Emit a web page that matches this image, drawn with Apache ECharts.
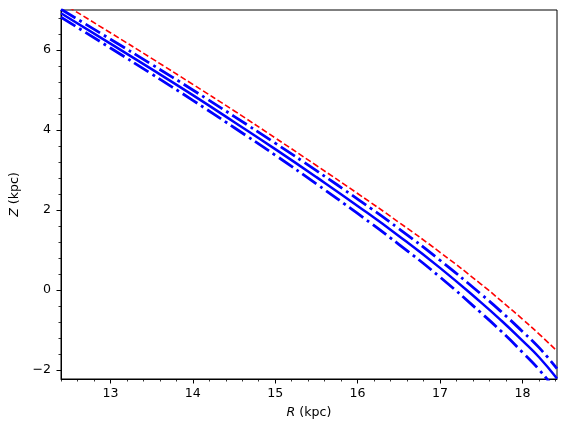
<!DOCTYPE html>
<html><head><meta charset="utf-8">
<script src="https://cdn.jsdelivr.net/npm/echarts@6/dist/echarts.min.js"></script>
<style>html,body{margin:0;padding:0;background:#fff}#c{width:566px;height:433px}</style>
</head><body><div id="c"></div>
<script>
// Galactocentric radius R (kpc)
const R = [12.4, 13.0, 13.5, 14.0, 14.5, 15.0, 15.5, 16.0, 16.5, 17.0, 17.5, 17.75, 18.0, 18.2, 18.42];
// Z (kpc) of each curve
const zRed   = [7.19, 6.43, 5.79, 5.14, 4.48, 3.80, 3.11, 2.41, 1.69, 0.94, 0.14, -0.29, -0.73, -1.10, -1.53];
const zUpper = [7.02, 6.27, 5.64, 5.00, 4.34, 3.67, 2.98, 2.27, 1.53, 0.74, -0.11, -0.56, -1.04, -1.44, -1.97];
const zSolid = [6.92, 6.16, 5.52, 4.87, 4.20, 3.52, 2.82, 2.10, 1.35, 0.55, -0.32, -0.78, -1.27, -1.68, -2.22];
const zLower = [6.82, 6.05, 5.40, 4.74, 4.06, 3.37, 2.65, 1.91, 1.14, 0.32, -0.58, -1.05, -1.56, -1.99, -2.55];

const xMajorTicks = [13, 14, 15, 16, 17, 18];
const xMinorTicks = [12.4, 12.6, 12.8, 13.2, 13.4, 13.6, 13.8, 14.2, 14.4, 14.6, 14.8, 15.2, 15.4, 15.6, 15.8,
                     16.2, 16.4, 16.6, 16.8, 17.2, 17.4, 17.6, 17.8, 18.2, 18.4];
const yMajorTicks = [-2, 0, 2, 4, 6];
const yMinorTicks = [-1.6, -1.2, -0.8, -0.4, 0.4, 0.8, 1.2, 1.6, 2.4, 2.8, 3.2, 3.6, 4.4, 4.8, 5.2, 5.6, 6.4, 6.8];

const X_MIN = 12.4, X_MAX = 18.42, Y_MIN = -2.23, Y_MAX = 7.0;
const FONT = 'DejaVu Sans';
const FS = 12.6;

const pts = arr => R.map((r, i) => [r, arr[i]]);
const fmt = v => (v < 0 ? '\u2212' + Math.abs(v) : String(v));

const chart = echarts.init(document.getElementById('c'), null, {renderer: 'canvas'});
chart.setOption({
  animation: false,
  backgroundColor: '#fff',
  grid: {left: 61, right: 9, top: 10, bottom: 54, show: true, borderColor: '#000', borderWidth: 1, backgroundColor: 'transparent'},
  xAxis: [
    {type: 'value', min: X_MIN, max: X_MAX, position: 'bottom',
     axisLine: {show: true, onZero: false, lineStyle: {color: '#000', width: 1}},
     axisTick: {show: true, customValues: xMajorTicks, length: 4.5, inside: false, lineStyle: {color: '#000', width: 1}},
     axisLabel: {show: true, customValues: xMajorTicks, formatter: fmt, color: '#000', fontFamily: FONT, fontSize: FS, margin: 8},
     splitLine: {show: false},
     name: '{i|R} (kpc)', nameLocation: 'middle', nameGap: 27,
     nameTextStyle: {color: '#000', fontFamily: FONT, fontSize: FS, rich: {i: {fontStyle: 'italic', fontFamily: FONT, fontSize: FS, color: '#000'}}}
    },
    {type: 'value', min: X_MIN, max: X_MAX, position: 'bottom',
     axisLine: {show: false, onZero: false},
     axisTick: {show: true, customValues: xMinorTicks, length: 2.5, lineStyle: {color: '#000', width: 0.8}},
     axisLabel: {show: false}, splitLine: {show: false}}
  ],
  yAxis: [
    {type: 'value', min: Y_MIN, max: Y_MAX, position: 'left',
     axisLine: {show: true, onZero: false, lineStyle: {color: '#000', width: 1}},
     axisTick: {show: true, customValues: yMajorTicks, length: 4.5, lineStyle: {color: '#000', width: 1}},
     axisLabel: {show: true, customValues: yMajorTicks, formatter: fmt, color: '#000', fontFamily: FONT, fontSize: FS, margin: 10},
     splitLine: {show: false},
     name: '{i|Z} (kpc)', nameLocation: 'middle', nameGap: 38, nameRotate: 90,
     nameTextStyle: {color: '#000', fontFamily: FONT, fontSize: FS, rich: {i: {fontStyle: 'italic', fontFamily: FONT, fontSize: FS, color: '#000'}}}
    },
    {type: 'value', min: Y_MIN, max: Y_MAX, position: 'left',
     axisLine: {show: false, onZero: false},
     axisTick: {show: true, customValues: yMinorTicks, length: 2.5, lineStyle: {color: '#000', width: 0.8}},
     axisLabel: {show: false}, splitLine: {show: false}}
  ],
  series: [
    {type: 'line', xAxisIndex: 0, yAxisIndex: 0, data: pts(zRed), showSymbol: false, smooth: 0.5, clip: true,
     lineStyle: {color: '#ff0000', width: 1.6, type: [6, 2.8]}},
    {type: 'line', xAxisIndex: 0, yAxisIndex: 0, data: pts(zUpper), showSymbol: false, smooth: 0.5, clip: true,
     lineStyle: {color: '#0000ff', width: 2.8, type: [17, 4.5, 2.8, 4.5]}},
    {type: 'line', xAxisIndex: 0, yAxisIndex: 0, data: pts(zSolid), showSymbol: false, smooth: 0.5, clip: true,
     lineStyle: {color: '#0000ff', width: 2.5, type: 'solid'}},
    {type: 'line', xAxisIndex: 0, yAxisIndex: 0, data: pts(zLower), showSymbol: false, smooth: 0.5, clip: true,
     lineStyle: {color: '#0000ff', width: 2.8, type: [17, 4.5, 2.8, 4.5]}}
  ]
});
</script>
</body></html>
